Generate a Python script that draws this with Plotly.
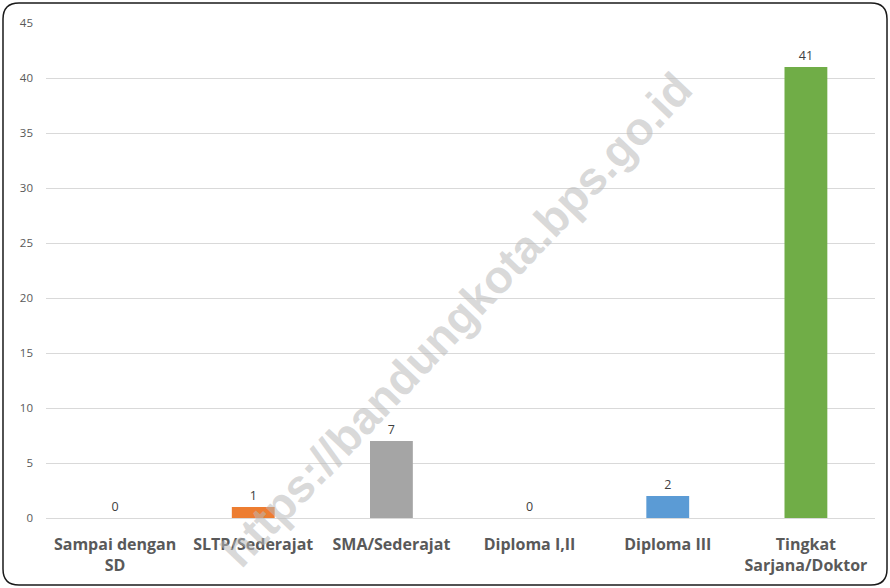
import plotly.graph_objects as go

categories = ["Sampai dengan<br>SD", "SLTP/Sederajat", "SMA/Sederajat", "Diploma I,II", "Diploma III", "Tingkat<br>Sarjana/Doktor"]
values = [0, 1, 7, 0, 2, 41]
colors = ["#4472C4", "#ED7D31", "#A5A5A5", "#FFC000", "#5B9BD5", "#70AD47"]
y_ticks = [0, 5, 10, 15, 20, 25, 30, 35, 40, 45]

W, H = 890, 588
ML, MR, MT, MB = 46, 15, 23, 70
PW, PH = W - ML - MR, H - MT - MB

fig = go.Figure()
fig.add_trace(go.Bar(
    x=categories, y=values, marker=dict(color=colors, line=dict(width=0)),
    width=0.31, text=[str(v) for v in values], textposition="outside",
    textfont=dict(family="Open Sans, Noto Sans, sans-serif", size=12.5, color="#404040"),
    cliponaxis=False, hoverinfo="skip",
))

def px2paper(x, y):
    return (x - ML) / PW, (H - MB - y) / PH

x0, y0, x1, y1, r = 3, 3, 887, 585, 16
def P(x, y):
    px, py = px2paper(x, y)
    return f"{px:.5f},{py:.5f}"
path = (f"M {P(x0 + r, y0)} L {P(x1 - r, y0)} Q {P(x1, y0)} {P(x1, y0 + r)} "
        f"L {P(x1, y1 - r)} Q {P(x1, y1)} {P(x1 - r, y1)} "
        f"L {P(x0 + r, y1)} Q {P(x0, y1)} {P(x0, y1 - r)} "
        f"L {P(x0, y0 + r)} Q {P(x0, y0)} {P(x0 + r, y0)} Z")
fig.add_shape(type="path", path=path, xref="paper", yref="paper",
              line=dict(color="#1a1a1a", width=1.5), fillcolor="rgba(0,0,0,0)", layer="above")

wx, wy = px2paper(456, 320)
fig.add_annotation(text="<b>https://bandungkota.bps.go.id</b>", x=wx, y=wy, xref="paper", yref="paper",
                   showarrow=False, textangle=-46.5,
                   font=dict(family="Liberation Sans, Arial, sans-serif", size=46, color="rgba(185,185,185,0.55)"))

fig.update_layout(
    width=W, height=H, margin=dict(l=ML, r=MR, t=MT, b=MB),
    paper_bgcolor="white", plot_bgcolor="white", showlegend=False, bargap=0.69,
    xaxis=dict(showgrid=False, showline=False, ticks="", ticklabelstandoff=15,
               tickfont=dict(family="Open Sans, Noto Sans, sans-serif", size=16, color="#595959", weight="bold")),
    yaxis=dict(range=[0, 45], tickvals=y_ticks, showgrid=True, gridcolor="#D9D9D9", gridwidth=1,
               zeroline=True, zerolinecolor="#D9D9D9", zerolinewidth=1, showline=False, ticks="",
               ticklabelstandoff=12,
               tickfont=dict(family="Open Sans, Noto Sans, sans-serif", size=11.5, color="#595959")),
)
fig.write_html("out.html", config={"displayModeBar": False}, post_script="document.body.style.margin='0';")
